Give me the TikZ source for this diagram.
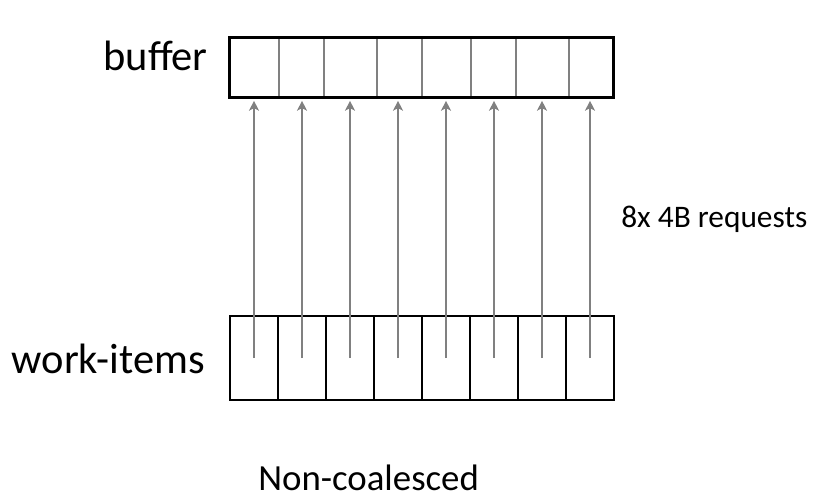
\documentclass[tikz,border=0pt]{standalone}
\usepackage{fontspec}
\setmainfont{Carlito}
\usetikzlibrary{arrows.meta,positioning}

\tikzset{
    lbl/.style={font=\fontsize{30.2}{35}\selectfont, inner sep=0pt},
    cell/.style={draw=black, line width=1.8pt, minimum width=48*0.025cm,
        minimum height=84*0.025cm, inner sep=0pt},
    req/.style={draw=gray, line width=1.3pt,
        -{Stealth[length=7pt, width=7pt, inset=1.8pt]}}
}

\begin{document}
\begin{tikzpicture}[x=0.025cm, y=-0.025cm]
    \useasboundingbox (0,0) rectangle (814,500);

    % buffer with its slots
    \node[minimum width=383*0.025cm, minimum height=59*0.025cm, inner sep=0pt]
        (buf) at (421.5,67.5) {};
    \foreach \xx in {279,324,377,422,471,516,569} {
        \draw[gray, line width=1.4pt] (\xx,38) -- (\xx,96);
    }
    \draw[line width=2.1pt] (buf.south west) rectangle (buf.north east);
    \node[lbl, anchor=base east] (buflbl) at (208,70) {buffer};

    % one cell per work-item
    \foreach \i in {1,...,8} {
        \node[cell] (w\i) at ({230+24+48*(\i-1)},358) {};
    }
    \node[lbl, anchor=base east] (wilbl) at (205,373) {work-items};

    % every work-item sends its own request
    \foreach \i in {1,...,8} {
        \draw[req, shorten >=2.5pt] (w\i.center) -- (w\i.center |- buf.south);
    }
    \node[font=\fontsize{22.3}{26}\selectfont, inner sep=0pt, anchor=base west]
        (reqlbl) at (621,227) {8x 4B requests};

    \node[font=\fontsize{26.2}{30}\selectfont, inner sep=0pt, text depth=0pt,
        anchor=base west] (title) at (258,490) {Non-coalesced};
\end{tikzpicture}
\end{document}
